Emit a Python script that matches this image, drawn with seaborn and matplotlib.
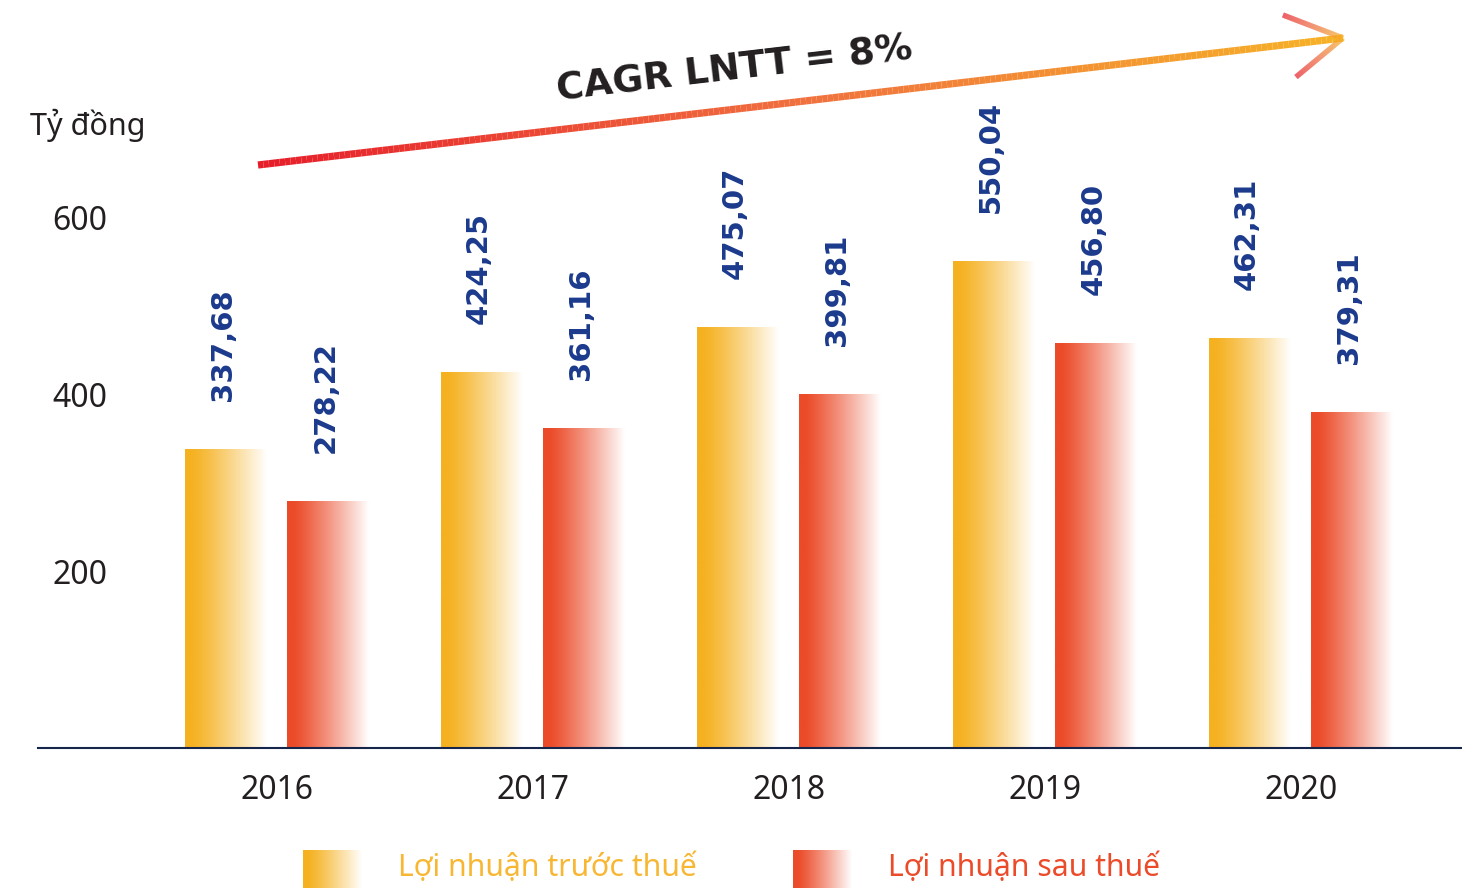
import numpy as np
import pandas as pd
import matplotlib
matplotlib.use("Agg")
import matplotlib.pyplot as plt
import seaborn as sns
from matplotlib.collections import LineCollection
from matplotlib.colors import to_rgb, LinearSegmentedColormap

# ---------------- data ----------------
years = ["2016", "2017", "2018", "2019", "2020"]
series_names = ["Lợi nhuận trước thuế", "Lợi nhuận sau thuế"]
profit_before_tax = [337.68, 424.25, 475.07, 550.04, 462.31]
profit_after_tax = [278.22, 361.16, 399.81, 456.80, 379.31]
y_ticks = [200, 400, 600]
unit_label = "Tỷ đồng"
cagr_text = "CAGR LNTT = 8%"

colors = ["#F5B120", "#EB4B29"]
navy = "#1B3A8C"
dark = "#231F20"

df = pd.DataFrame({
    "year": years * 2,
    "series": [series_names[0]] * len(years) + [series_names[1]] * len(years),
    "value": profit_before_tax + profit_after_tax,
})

sns.set_theme(style="white")
plt.rcParams["font.family"] = ["Noto Sans", "DejaVu Sans"]
bold_family = ["DejaVu Sans"]

W, H = 1462, 888
fig = plt.figure(figsize=(W / 100, H / 100), dpi=100)
fig.patch.set_facecolor("white")

ymax = 700
ax = fig.add_axes([38 / W, 140 / H, 1 - 38 / W, (ymax * 0.885) / H])

sns.barplot(data=df, x="year", y="value", hue="series", palette=colors,
            saturation=1, width=0.8, gap=0.2, legend=False, ax=ax, zorder=2)


def gradient_img(color, n=256):
    c = np.array(to_rgb(color))
    t = np.linspace(0, 1, n)
    w = np.clip((t - 0.08) / 0.92, 0, 1) ** 1.15
    rgb = c[None, :] * (1 - w[:, None]) + np.ones(3)[None, :] * w[:, None]
    return rgb[None, :, :]


bars = [p for p in ax.patches if p.get_height() > 0]
for p in bars:
    x0, w, h = p.get_x(), p.get_width(), p.get_height()
    fc = p.get_facecolor()
    p.set_visible(False)
    ax.imshow(gradient_img(fc), extent=[x0, x0 + w, 0, h], aspect="auto",
              interpolation="bilinear", zorder=2)
    lbl = f"{h:.2f}".replace(".", ",")
    ax.annotate(lbl, xy=(x0 + w / 2, h), xytext=(-2, 35), textcoords="offset points",
                rotation=90, ha="center", va="bottom", fontsize=21,
                fontweight="bold", color=navy, family=bold_family)

ax.set_xlim(-0.934, 4.63)
ax.set_ylim(0, ymax)
ax.set_yticks(y_ticks)
ax.set_yticklabels([str(v) for v in y_ticks])
ax.set_xlabel("")
ax.set_ylabel("")
for s in ["top", "right", "left"]:
    ax.spines[s].set_visible(False)
ax.spines["bottom"].set_color("#16254A")
ax.spines["bottom"].set_linewidth(1.5)
ax.tick_params(axis="y", length=0, pad=-50, labelsize=23, labelcolor=dark)
ax.tick_params(axis="x", length=0, pad=19, labelsize=23, labelcolor=dark)
for t in ax.get_yticklabels():
    t.set_horizontalalignment("right")
ax.set_facecolor("none")

# ---------------- overlay (arrow, unit, legend) ----------------
ov = fig.add_axes([0, 0, 1, 1], zorder=5)
ov.set_xlim(0, W)
ov.set_ylim(H, 0)
ov.axis("off")
ov.patch.set_alpha(0)

cmap_arrow = LinearSegmentedColormap.from_list("arr", ["#E61E2A", "#F0703E", "#F6B226"])
cmap_head = LinearSegmentedColormap.from_list("head", ["#E8202A", "#EF6A3C", "#F6B226"])


def grad_line(p0, p1, lw, cmap, c0=0.0, c1=1.0, n=200):
    xs = np.linspace(p0[0], p1[0], n + 1)
    ys = np.linspace(p0[1], p1[1], n + 1)
    pts = np.column_stack([xs, ys]).reshape(-1, 1, 2)
    segs = np.concatenate([pts[:-1], pts[1:]], axis=1)
    lc = LineCollection(segs, cmap=cmap, linewidths=lw, capstyle="butt")
    lc.set_array(np.linspace(c0, c1, n))
    lc.set_clim(0, 1)
    ov.add_collection(lc)


grad_line((258, 165), (1343, 38), 5.2, cmap_arrow)
grad_line((1283, 15), (1343, 38), 3.8, cmap_head, 0.0, 1.0)
grad_line((1296, 77), (1343, 38), 3.8, cmap_head, 0.0, 1.0)

ov.text(735, 70, cagr_text, rotation=6.7, rotation_mode="anchor", ha="center",
        va="center", fontsize=27, fontweight="bold", color=dark, family=bold_family)

ov.text(30, 125, unit_label, ha="left", va="center", fontsize=22, color=dark)

# legend
leg_x = [303, 793]
txt_colors = ["#F7B733", "#EB4B29"]
for i, name in enumerate(series_names):
    x0 = leg_x[i]
    ov.imshow(gradient_img(colors[i]), extent=[x0, x0 + 59, 888, 850], aspect="auto",
              interpolation="bilinear")
    ov.text(x0 + 95, 868, name, ha="left", va="center", fontsize=21.7, color=txt_colors[i])

ov.set_xlim(0, W)
ov.set_ylim(H, 0)

fig.savefig("out.png", dpi=100, facecolor="white")
